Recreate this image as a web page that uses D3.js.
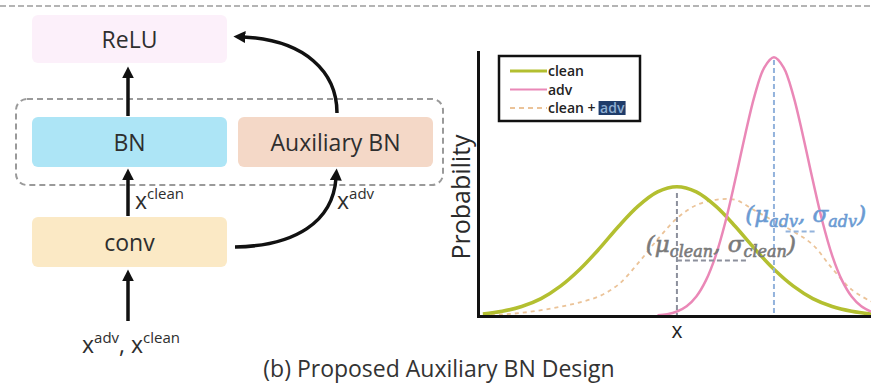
<!DOCTYPE html>
<html>
<head>
<meta charset="utf-8">
<script src="https://cdn.jsdelivr.net/npm/d3@7/dist/d3.min.js"></script>
<style>
  html, body { margin: 0; padding: 0; background: #fff; }
  svg { display: block; }
</style>
</head>
<body>
<svg id="fig" width="871" height="383"></svg>
<script>
// ---- Distribution data (probability density, read per sample point) ----
const gridX   = [0, 0.5, 1, 1.5, 2, 2.5, 3, 3.5, 4, 4.5, 5, 5.5, 6, 6.5, 7, 7.5, 8, 8.5, 9, 9.5, 10];
const cleanP  = [0.008, 0.018, 0.036, 0.066, 0.113, 0.177, 0.255, 0.340, 0.416, 0.470, 0.490,
                 0.470, 0.416, 0.340, 0.255, 0.177, 0.113, 0.066, 0.036, 0.018, 0.008];
const mixP    = [0.003, 0.006, 0.012, 0.022, 0.035, 0.052, 0.075, 0.120, 0.200, 0.290, 0.370,
                 0.420, 0.440, 0.440, 0.400, 0.360, 0.320, 0.270, 0.180, 0.100, 0.055];
const advX    = [4.5, 4.75, 5, 5.25, 5.5, 5.75, 6, 6.25, 6.5, 6.75, 7, 7.25, 7.5,
                 7.75, 8, 8.25, 8.5, 8.75, 9, 9.25, 9.5, 9.75, 10];
const advP    = [0.003, 0.007, 0.017, 0.037, 0.074, 0.136, 0.229, 0.357, 0.514, 0.681, 0.834, 0.941, 0.980,
                 0.941, 0.834, 0.681, 0.514, 0.357, 0.229, 0.136, 0.074, 0.037, 0.017];

// Means and spread markers
const means      = [5.0, 7.5];            // clean, adv
const meanTops   = [0.466, 0.97];
const spreadFrom = [5.0, 7.8];
const spreadTo   = [6.8, 8.55];
const spreadLvl  = [0.21, 0.32];

// Legend and labels
const seriesNames = ["clean", "adv", "clean + adv"];
const axisLabelX = "x";
const axisLabelY = "Probability";
const caption = "(b) Proposed Auxiliary BN Design";

const COL = {
  clean: "#b3bf30",
  adv: "#ea88b7",
  mix: "#ebc398",
  grayRef: "#8c909c",
  blueRef: "#93b3dc",
  grayTxt: "#7a7a7a",
  blueTxt: "#6b9bd3"
};

const svg = d3.select("#fig");

// ---- marker ----
const defs = svg.append("defs");
defs.append("marker")
  .attr("id", "arrow")
  .attr("viewBox", "0 -5 10 10")
  .attr("refX", 2).attr("refY", 0)
  .attr("markerWidth", 12).attr("markerHeight", 12)
  .attr("markerUnits", "userSpaceOnUse")
  .attr("orient", "auto")
  .append("path").attr("d", "M0,-5L10,0L0,5Z").attr("fill", "#111");

// ---- top separator ----
svg.append("line")
  .attr("x1", 0).attr("x2", 871).attr("y1", 6).attr("y2", 6)
  .attr("stroke", "#b4b4b4").attr("stroke-width", 2).attr("stroke-dasharray", "6,3");

// ---- block diagram ----
const diag = svg.append("g").attr("font-family", "'Open Sans', sans-serif");

diag.append("rect")
  .attr("x", 16).attr("y", 99).attr("width", 427).attr("height", 86)
  .attr("rx", 11).attr("fill", "none")
  .attr("stroke", "#9a9a9a").attr("stroke-width", 2).attr("stroke-dasharray", "6,4");

const blocks = [
  { label: "ReLU",         x: 32,  y: 15,  w: 195, h: 48, fill: "#fcf0fa" },
  { label: "BN",           x: 32,  y: 117, w: 195, h: 50, fill: "#ade5f6" },
  { label: "Auxiliary BN", x: 238, y: 117, w: 195, h: 50, fill: "#f4d8c7" },
  { label: "conv",         x: 32,  y: 217, w: 195, h: 50, fill: "#fbe9c5" }
];
const bg = diag.selectAll("g.block").data(blocks).join("g").attr("class", "block");
bg.append("rect")
  .attr("x", d => d.x).attr("y", d => d.y).attr("width", d => d.w).attr("height", d => d.h)
  .attr("rx", 6).attr("fill", d => d.fill);
bg.append("text")
  .attr("x", d => d.x + d.w / 2).attr("y", d => d.y + d.h / 2 + 9)
  .attr("text-anchor", "middle").attr("font-size", 23).attr("fill", "#2e2e2e")
  .text(d => d.label);

const arrowPaths = [
  "M128,321 L128,279",
  "M128,216 L128,178",
  "M128,116 L128,76",
  "M235,247 C295,246 333,222 336,178",
  "M337,113 C337,72 305,40 243,37"
];
diag.selectAll("path.arrow").data(arrowPaths).join("path")
  .attr("class", "arrow")
  .attr("d", d => d).attr("fill", "none")
  .attr("stroke", "#111").attr("stroke-width", 3.5)
  .attr("marker-end", "url(#arrow)");

// variable labels with superscripts
function sup(g, x, y, parts) {
  const t = g.append("text").attr("x", x).attr("y", y).attr("fill", "#2e2e2e");
  parts.forEach(p => {
    t.append("tspan")
      .attr("font-size", p.s ? 15 : 23)
      .attr("dy", p.dy || 0)
      .text(p.t);
  });
  return t;
}
sup(diag, 135, 209, [{ t: "x" }, { t: "clean", s: true, dy: -10 }]);
sup(diag, 337, 209, [{ t: "x" }, { t: "adv", s: true, dy: -10 }]);
sup(diag, 82, 353, [{ t: "x" }, { t: "adv", s: true, dy: -10 }, { t: ", ", dy: 10 }, { t: "x" }, { t: "clean", s: true, dy: -10 }]);

// caption
svg.append("text")
  .attr("x", 439).attr("y", 377).attr("text-anchor", "middle")
  .attr("font-family", "'Open Sans', sans-serif").attr("font-size", 23).attr("fill", "#333")
  .text(caption);

// ---- distribution plot ----
const x = d3.scaleLinear().domain([-0.125, 10]).range([478, 871]);
const y = d3.scaleLinear().domain([0, 1]).range([316, 52]);

const line = d3.line().x(d => x(d[0])).y(d => y(d[1])).curve(d3.curveCatmullRom.alpha(0.5));
const plot = svg.append("g");

plot.append("path").datum(d3.zip(gridX, mixP))
  .attr("d", line).attr("fill", "none")
  .attr("stroke", COL.mix).attr("stroke-width", 1.8).attr("stroke-dasharray", "4,4");

plot.append("path").datum(d3.zip(gridX, cleanP))
  .attr("d", line).attr("fill", "none")
  .attr("stroke", COL.clean).attr("stroke-width", 3.5);

plot.append("path").datum(d3.zip(advX, advP))
  .attr("d", line).attr("fill", "none")
  .attr("stroke", COL.adv).attr("stroke-width", 2.5);

// mean and spread markers
const refCols = [COL.grayRef, COL.blueRef];
plot.selectAll("line.mean").data(means).join("line")
  .attr("class", "mean")
  .attr("x1", d => x(d)).attr("x2", d => x(d))
  .attr("y1", (d, i) => y(meanTops[i])).attr("y2", y(0))
  .attr("stroke", (d, i) => refCols[i]).attr("stroke-width", 2).attr("stroke-dasharray", "5,3");
plot.selectAll("line.spread").data(spreadFrom).join("line")
  .attr("class", "spread")
  .attr("x1", d => x(d)).attr("x2", (d, i) => x(spreadTo[i]))
  .attr("y1", (d, i) => y(spreadLvl[i])).attr("y2", (d, i) => y(spreadLvl[i]))
  .attr("stroke", (d, i) => refCols[i]).attr("stroke-width", 2).attr("stroke-dasharray", "5,3");

// parameter annotations
function param(px, py, col, sub) {
  const t = plot.append("text")
    .attr("x", x(px)).attr("y", y(py))
    .attr("font-family", "'DejaVu Serif', serif").attr("font-style", "italic")
    .attr("fill", col).attr("stroke", col).attr("stroke-width", 0.6);
  t.append("tspan").attr("font-size", 23).text("(\u03bc");
  t.append("tspan").attr("font-size", 16).attr("dy", 5).text(sub);
  t.append("tspan").attr("font-size", 23).attr("dy", -5).text(", \u03c3");
  t.append("tspan").attr("font-size", 16).attr("dy", 5).text(sub);
  t.append("tspan").attr("font-size", 23).attr("dy", -5).text(")");
}
param(4.2, 0.242, COL.grayTxt, "clean");
param(6.76, 0.355, COL.blueTxt, "adv");

// axes
const xAxis = plot.append("g").attr("transform", `translate(0,${y(0)})`)
  .call(d3.axisBottom(x).tickValues([]).tickSizeOuter(0));
const yAxis = plot.append("g").attr("transform", `translate(${x(-0.125)},0)`)
  .call(d3.axisLeft(y).tickValues([]).tickSizeOuter(0));
[xAxis, yAxis].forEach(a => a.select(".domain")
  .attr("stroke", "#111").attr("stroke-width", 3).attr("stroke-linecap", "square"));

plot.append("text")
  .attr("x", x(5)).attr("y", 338).attr("text-anchor", "middle")
  .attr("font-family", "'Open Sans', sans-serif").attr("font-size", 21).attr("fill", "#222")
  .text(axisLabelX);
plot.append("text")
  .attr("transform", `translate(470,197) rotate(-90)`).attr("text-anchor", "middle")
  .attr("font-family", "'Open Sans', sans-serif").attr("font-size", 25).attr("fill", "#2a2a2a")
  .text(axisLabelY);

// legend
const lg = plot.append("g").attr("font-family", "'Open Sans', sans-serif");
lg.append("rect").attr("x", 499).attr("y", 56).attr("width", 141).attr("height", 65)
  .attr("fill", "#fff").attr("stroke", "#111").attr("stroke-width", 2.5);
const lgStyle = [
  { c: COL.clean, w: 3, dash: null },
  { c: COL.adv, w: 2, dash: null },
  { c: COL.mix, w: 2, dash: "5,4" }
];
const rows = lg.selectAll("g.row").data(seriesNames).join("g").attr("class", "row")
  .attr("transform", (d, i) => `translate(0,${71 + i * 18.5})`);
rows.append("line").attr("x1", 510).attr("x2", 547).attr("y1", 0).attr("y2", 0)
  .attr("stroke", (d, i) => lgStyle[i].c).attr("stroke-width", (d, i) => lgStyle[i].w)
  .attr("stroke-dasharray", (d, i) => lgStyle[i].dash);
rows.each(function (d, i) {
  const g = d3.select(this);
  if (i < 2) {
    g.append("text").attr("x", 548).attr("y", 5).attr("font-size", 14).attr("font-weight", 600)
      .attr("fill", "#222").text(d);
  } else {
    const [a, b] = d.split(" + ");
    const t = g.append("text").attr("x", 548).attr("y", 5).attr("font-size", 14).attr("font-weight", 600)
      .attr("fill", "#222").text(a + " +");
    const w = t.node().getComputedTextLength();
    g.append("rect").attr("x", 548 + w + 3).attr("y", -7).attr("width", 27).attr("height", 14)
      .attr("fill", "#1f3c6a");
    g.append("text").attr("x", 548 + w + 4.5).attr("y", 5).attr("font-size", 14).attr("font-weight", 600)
      .attr("fill", "#8eaed2").text(b);
  }
});
</script>
</body>
</html>
